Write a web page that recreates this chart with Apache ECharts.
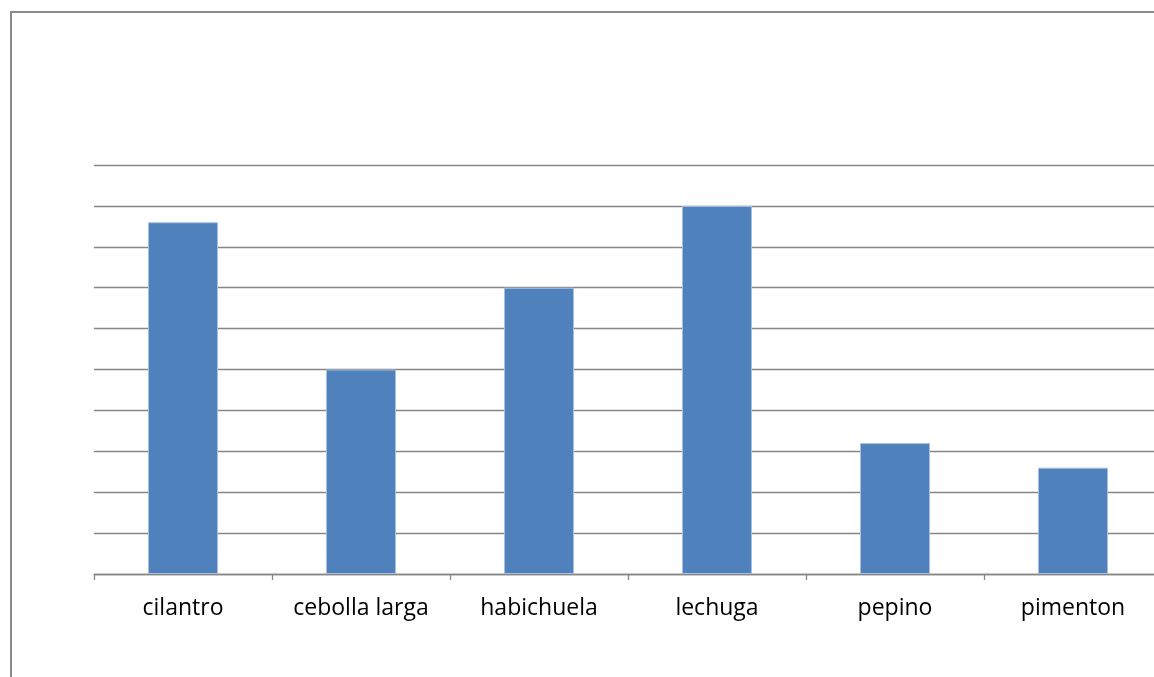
<!DOCTYPE html>
<html>
<head>
<meta charset="utf-8">
<script src="https://cdn.jsdelivr.net/npm/echarts@6/dist/echarts.min.js"></script>
<style>
  html, body { margin: 0; padding: 0; background: #ffffff; overflow: hidden; width: 1154px; height: 677px; }
  #frame { position: absolute; left: 10px; top: 11px; width: 1200px; height: 720px;
           border: 2px solid #8a8a8a; box-sizing: border-box; }
  #chart { position: absolute; left: 0; top: 0; width: 1200px; height: 677px; }
</style>
</head>
<body>
<div id="frame"></div>
<div id="chart"></div>
<script>
// Cultivos y valores
const categories = ['cilantro', 'cebolla larga', 'habichuela', 'lechuga', 'pepino', 'pimenton'];
const values = [8.6, 5, 7, 9, 3.2, 2.6];

const chart = echarts.init(document.getElementById('chart'));
chart.setOption({
  animation: false,
  backgroundColor: 'transparent',
  grid: { left: 94, top: 165, width: 1068, height: 409, containLabel: false },
  xAxis: {
    type: 'category',
    data: categories,
    boundaryGap: true,
    axisLine: { show: true, lineStyle: { color: '#868686', width: 1.3 } },
    axisTick: { show: true, alignWithLabel: false, length: 6, lineStyle: { color: '#868686', width: 1.3 } },
    axisLabel: { color: '#000000', fontSize: 23, fontFamily: '"Open Sans", sans-serif', margin: 23, interval: 0 },
    splitLine: { show: false }
  },
  yAxis: {
    type: 'value',
    min: 0, max: 10, interval: 1,
    axisLine: { show: false },
    axisTick: { show: false },
    axisLabel: { show: false },
    splitLine: { show: true, lineStyle: { color: '#868686', width: 1.3 } }
  },
  series: [{
    type: 'bar',
    data: values,
    barWidth: 70,
    itemStyle: { color: '#4f81bd', borderColor: '#a9c0e0', borderWidth: 1 }
  }]
});
</script>
</body>
</html>
